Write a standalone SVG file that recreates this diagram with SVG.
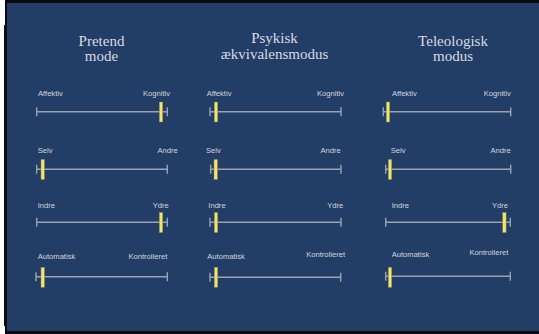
<svg xmlns="http://www.w3.org/2000/svg" width="539" height="334" viewBox="0 0 539 334">
  <style>
    .title { font-family: "Liberation Serif", "DejaVu Serif", serif; font-size: 15px; fill: #d9dbe3; text-anchor: middle; }
    .lab { font-family: "Liberation Sans", Arial, sans-serif; font-size: 7.6px; fill: #d4d6de; }
    .end { text-anchor: end; }
    .track { stroke: #9ba1b2; stroke-width: 1.4; fill: none; }
    .mark { fill: #f3e46b; stroke: #8c8550; stroke-width: 0.5; }
  </style>
  <rect x="0" y="0" width="539" height="334" fill="#ffffff"/>
  <rect x="5" y="0" width="534" height="334" fill="#0b0b0d"/>
  <rect x="4" y="25" width="4" height="301" fill="#0b0b0d"/>
  <rect x="7" y="3" width="532" height="328" fill="#223d66"/>

  <g id="title-pretend">
    <text class="title" x="101.5" y="45.5">Pretend</text>
    <text class="title" x="101.5" y="61">mode</text>
  </g>
  <g id="title-psykisk">
    <text class="title" x="274.5" y="43">Psykisk</text>
    <text class="title" x="274.5" y="58.5">ækvivalensmodus</text>
  </g>
  <g id="title-teleologisk">
    <text class="title" x="453" y="46">Teleologisk</text>
    <text class="title" x="453" y="61">modus</text>
  </g>

  <g id="labels">
    <text class="lab" x="38" y="95.5">Affektiv</text>
    <text class="lab end" x="170" y="95.5">Kognitiv</text>
    <text class="lab" x="206.7" y="95.5">Affektiv</text>
    <text class="lab end" x="344" y="95.5">Kognitiv</text>
    <text class="lab" x="392" y="95.5">Affektiv</text>
    <text class="lab end" x="510.7" y="95.5">Kognitiv</text>

    <text class="lab" x="37.7" y="153">Selv</text>
    <text class="lab end" x="177.7" y="153">Andre</text>
    <text class="lab" x="206" y="153.3">Selv</text>
    <text class="lab end" x="340.7" y="153.3">Andre</text>
    <text class="lab" x="390.7" y="152.7">Selv</text>
    <text class="lab end" x="510.7" y="152.7">Andre</text>

    <text class="lab" x="37.7" y="207.7">Indre</text>
    <text class="lab end" x="168.7" y="207.7">Ydre</text>
    <text class="lab" x="208.3" y="207.7">Indre</text>
    <text class="lab end" x="343.3" y="207.7">Ydre</text>
    <text class="lab" x="391.7" y="207.7">Indre</text>
    <text class="lab end" x="508" y="207.7">Ydre</text>

    <text class="lab" x="37.7" y="259.3">Automatisk</text>
    <text class="lab end" x="167.3" y="259">Kontrolleret</text>
    <text class="lab" x="207.3" y="259.3">Automatisk</text>
    <text class="lab end" x="345" y="256.7">Kontrolleret</text>
    <text class="lab" x="391.7" y="257.3">Automatisk</text>
    <text class="lab end" x="508.3" y="255">Kontrolleret</text>
  </g>

  <g id="tracks">
    <path class="track" d="M36.7 111.7H167.3M36.7 107.2V116.2M167.3 107.2V116.2"/>
    <path class="track" d="M210 111.7H341M210 107.2V116.2M341 107.2V116.2"/>
    <path class="track" d="M383.3 111.7H510.7M383.3 107.2V116.2M510.7 107.2V116.2"/>

    <path class="track" d="M36.7 169.3H167.3M36.7 164.8V173.8M167.3 164.8V173.8"/>
    <path class="track" d="M210.7 169.3H341M210.7 164.8V173.8M341 164.8V173.8"/>
    <path class="track" d="M385.7 169.3H510.7M385.7 164.8V173.8M510.7 164.8V173.8"/>

    <path class="track" d="M36.7 222.3H167.3M36.7 217.8V226.8M167.3 217.8V226.8"/>
    <path class="track" d="M210 222.3H341M210 217.8V226.8M341 217.8V226.8"/>
    <path class="track" d="M385.7 222.3H510.3M385.7 217.8V226.8M510.3 217.8V226.8"/>

    <path class="track" d="M36 276.7H167.3M36 272.2V281.2M167.3 272.2V281.2"/>
    <path class="track" d="M210 277.3H340.7M210 272.8V281.8M340.7 272.8V281.8"/>
    <path class="track" d="M385.7 276.3H510.3M385.7 271.8V280.8M510.3 271.8V280.8"/>
  </g>

  <g id="markers">
    <rect class="mark" x="159.3" y="102" width="3.4" height="20"/>
    <rect class="mark" x="214.3" y="102" width="3.4" height="20"/>
    <rect class="mark" x="386.3" y="102" width="3.4" height="20"/>

    <rect class="mark" x="41" y="159.5" width="3.4" height="20"/>
    <rect class="mark" x="214" y="159.5" width="3.4" height="20"/>
    <rect class="mark" x="388.3" y="159.5" width="3.4" height="20"/>

    <rect class="mark" x="159.3" y="212.5" width="3.4" height="20"/>
    <rect class="mark" x="214.3" y="212.5" width="3.4" height="20"/>
    <rect class="mark" x="502.7" y="212.5" width="3.4" height="20"/>

    <rect class="mark" x="41" y="267.3" width="3.4" height="20"/>
    <rect class="mark" x="214.3" y="267.3" width="3.4" height="20"/>
    <rect class="mark" x="388.3" y="267.3" width="3.4" height="20"/>
  </g>
</svg>
